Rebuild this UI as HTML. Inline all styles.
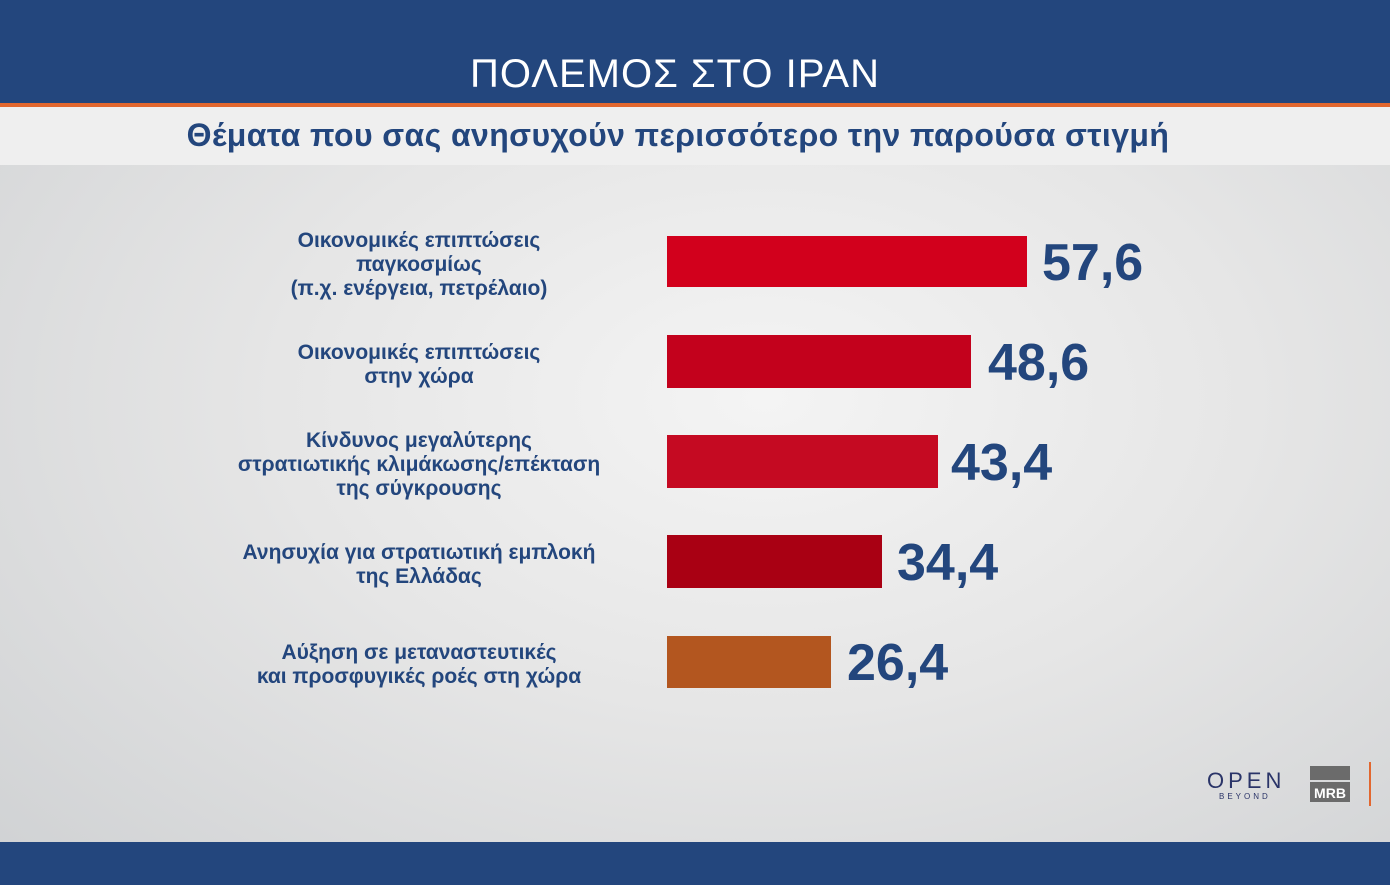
<!DOCTYPE html><html><head><meta charset="utf-8"><style>
body{margin:0;width:1390px;height:885px;overflow:hidden;position:relative;font-family:"Liberation Sans","DejaVu Sans",sans-serif;background:radial-gradient(ellipse at 55% 45%,#f4f4f4 0%,#e6e6e6 45%,#cfd1d3 100%);}
.top{position:absolute;left:0;top:0;width:1390px;height:103px;background:#23467d;}
.title{position:absolute;top:52px;left:0;width:1350px;text-align:center;color:#fff;font-size:40px;font-weight:300;letter-spacing:1px;}
.or{position:absolute;top:103px;left:0;width:1390px;height:4px;background:#e2672f;}
.band{position:absolute;top:107px;left:0;width:1390px;height:58px;background:#efefef;}
.sub{position:absolute;top:117px;left:0;width:1356px;text-align:center;color:#23467d;font-size:32px;font-weight:bold;letter-spacing:0.4px;}
.bot{position:absolute;top:842px;left:0;width:1390px;height:43px;background:#23467d;}
.lab{position:absolute;width:480px;left:179px;text-align:center;color:#23467d;font-weight:bold;font-size:21px;line-height:24px;}
.bar{position:absolute;left:667px;}
.val{position:absolute;color:#23467d;font-weight:bold;font-size:52px;top:0;}
</style></head><body>
<div class="top"></div><div class="title">ΠΟΛΕΜΟΣ ΣΤΟ ΙΡΑΝ</div>
<div class="or"></div><div class="band"></div>
<div class="sub">Θέματα που σας ανησυχούν περισσότερο την παρούσα στιγμή</div>
<div class="lab" style="top:229px">Οικονομικές επιπτώσεις<br>παγκοσμίως<br>(π.χ. ενέργεια, πετρέλαιο)</div>
<div class="lab" style="top:341px">Οικονομικές επιπτώσεις<br>στην χώρα</div>
<div class="lab" style="top:429px">Κίνδυνος μεγαλύτερης<br>στρατιωτικής κλιμάκωσης/επέκταση<br>της σύγκρουσης</div>
<div class="lab" style="top:541px">Ανησυχία για στρατιωτική εμπλοκή<br>της Ελλάδας</div>
<div class="lab" style="top:641px">Αύξηση σε μεταναστευτικές<br>και προσφυγικές ροές στη χώρα</div>
<div class="bar" style="top:236px;width:360px;height:51px;background:#d2001c"></div>
<div class="bar" style="top:335px;width:304px;height:53px;background:#c3011c"></div>
<div class="bar" style="top:435px;width:271px;height:53px;background:#c50a22"></div>
<div class="bar" style="top:535px;width:215px;height:53px;background:#a90013"></div>
<div class="bar" style="top:636px;width:164px;height:52px;background:#b3561f"></div>
<div class="val" style="left:1042px;top:233px">57,6</div>
<div class="val" style="left:988px;top:333px">48,6</div>
<div class="val" style="left:951px;top:433px">43,4</div>
<div class="val" style="left:897px;top:533px">34,4</div>
<div class="val" style="left:847px;top:633px">26,4</div>
<div style="position:absolute;left:1207px;top:768px;color:#2a3468;font-size:22px;letter-spacing:4px">OPEN</div>
<div style="position:absolute;left:1219px;top:792px;color:#2a3468;font-size:8px;letter-spacing:3px">BEYOND</div>
<div style="position:absolute;left:1310px;top:766px;width:40px;height:14px;background:#6b6b6b"></div>
<div style="position:absolute;left:1310px;top:782px;width:40px;height:20px;background:#6b6b6b;color:#fff;font-weight:bold;font-size:14px;text-align:center;line-height:22px">MRB</div>
<div style="position:absolute;left:1369px;top:762px;width:2px;height:44px;background:#e2672f"></div>
<div class="bot"></div>
</body></html>
